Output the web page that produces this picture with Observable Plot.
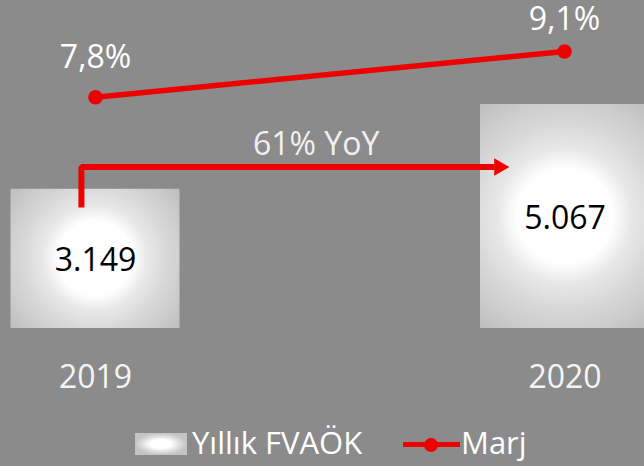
<!DOCTYPE html>
<html><head><meta charset="utf-8">
<script src="https://cdn.jsdelivr.net/npm/d3@7"></script>
<script src="https://cdn.jsdelivr.net/npm/@observablehq/plot@0.6"></script>
<style>
body{margin:0;background:#8b8b8b;}
#chart{position:relative;width:644px;height:466px;overflow:hidden;background:#8b8b8b;font-family:"Open Sans",sans-serif;}
#chart svg{position:absolute;left:0;top:0;overflow:hidden;}
.leg{position:absolute;color:#fff;font-size:31px;line-height:31px;white-space:nowrap;}
</style></head><body><div id="chart"></div>
<script>
// ---- data ----
const years = ["2019", "2020"];
const fvaok = [3149, 5067];
const fvaokLabels = ["3.149", "5.067"];
const marj = [7.8, 9.1];
const marjLabels = ["7,8%", "9,1%"];
const yoyLabel = "61% YoY";
const seriesNames = ["Yıllık FVAÖK", "Marj"];

const RED = "#ee0000";
const FONT = "Open Sans";

const bars = years.map((y, i) => ({year: +y, value: fvaok[i], label: fvaokLabels[i]}));
const pts = years.map((y, i) => ({year: y, value: marj[i], label: marjLabels[i]}));

// annotation arrow (growth from 2019 to 2020), in year / FVAÖK units
const y0 = +years[0], y1 = +years[1];
const arrowPath = [
  {x: y0 - 0.03, y: 2737},
  {x: y0 - 0.03, y: 3653},
  {x: y1 - 0.15, y: 3653}
];
const arrowHead = [{x: y1 - 0.14, y: 3653}];
const yoy = [{x: y0 + 0.47, y: 3653, text: yoyLabel}];
const half = 0.18;

const plotA = Plot.plot({
  width: 644, height: 410,
  marginLeft: 95, marginRight: 79.5, marginTop: 104, marginBottom: 82,
  x: {domain: [y0, y1]},
  y: {domain: [0, 5067], axis: null},
  style: {background: "transparent", fontFamily: FONT, fontSize: "32px", overflow: "hidden"},
  marks: [
    Plot.rectY(bars, {x1: d => d.year - half, x2: d => d.year + half, y: "value", fill: "#dddddd"}),
    Plot.axisX({ticks: years.map(Number), tickFormat: d => String(d), tickSize: 0, tickPadding: 37, fontSize: 32, fill: "#f4f4f4"}),
    Plot.text(bars, {x: "year", y: d => d.value / 2, text: "label", fontSize: 32, fill: "#000", dy: 2}),
    Plot.line(arrowPath, {x: "x", y: "y", stroke: RED, strokeWidth: 6, strokeLinejoin: "miter", strokeLinecap: "butt"}),
    Plot.dot(arrowHead, {x: "x", y: "y", symbol: "triangle", rotate: 90, r: 6.5, fill: RED, stroke: "none"}),
    Plot.text(yoy, {x: "x", y: "y", text: "text", dy: -22, fontSize: 32, fill: "#f0f0f0"})
  ]
});

// radial gradient per bar (white center, grey edges)
(function () {
  const svg = d3.select(plotA);
  const defs = svg.insert("defs", ":first-child");
  svg.selectAll("rect").filter(function () { return this.hasAttribute("width") && this.hasAttribute("height"); })
    .each(function (d, i) {
      const r = d3.select(this);
      const x = +r.attr("x"), y = +r.attr("y"), w = +r.attr("width"), h = +r.attr("height");
      const id = "barGrad" + i;
      const g = defs.append("radialGradient").attr("id", id).attr("gradientUnits", "userSpaceOnUse")
        .attr("cx", x + w / 2).attr("cy", y + h / 2).attr("r", Math.hypot(w, h) / 2);
      [[0, "#ffffff"], [0.34, "#ffffff"], [0.48, "#e8e8e8"], [0.66, "#d8d8d8"], [0.85, "#cacaca"], [1, "#bdbdbd"]]
        .forEach(([o, c]) => g.append("stop").attr("offset", o).attr("stop-color", c));
      r.attr("fill", `url(#${id})`);
    });
})();

const plotB = Plot.plot({
  width: 644, height: 410,
  x: {type: "point", domain: years, range: [95, 564.5], padding: 0, axis: null},
  y: {domain: [0, 10], range: [371, 19.4], axis: null},
  style: {background: "transparent", fontFamily: FONT, fontSize: "32px", overflow: "hidden"},
  marks: [
    Plot.line(pts, {x: "year", y: "value", stroke: RED, strokeWidth: 5.5}),
    Plot.dot(pts, {x: "year", y: "value", r: 7.3, fill: RED, stroke: "none"}),
    Plot.text(pts.slice(0, 1), {x: "year", y: "value", text: "label", dy: -39.5, fontSize: 32, fill: "#fff"}),
    Plot.text(pts.slice(1), {x: "year", y: "value", text: "label", dy: -31.5, fontSize: 32, fill: "#fff"})
  ]
});

const chart = document.getElementById("chart");
chart.appendChild(plotA);
chart.appendChild(plotB);

// legend (below the plot area)
chart.insertAdjacentHTML("beforeend", `
  <div style="position:absolute;left:135px;top:433px;width:52px;height:22px;background:radial-gradient(closest-side,#fff 40%,#e0e0e0 70%,#c4c4c4 100%);"></div>
  <div class="leg" style="left:192px;top:426.5px;">${seriesNames[0]}</div>
  <div style="position:absolute;left:403px;top:442px;width:57px;height:5px;background:${RED};"></div>
  <div style="position:absolute;left:424px;top:437.7px;width:14px;height:14px;border-radius:50%;background:${RED};"></div>
  <div class="leg" style="left:461px;top:426.5px;">${seriesNames[1]}</div>
`);
</script></body></html>
